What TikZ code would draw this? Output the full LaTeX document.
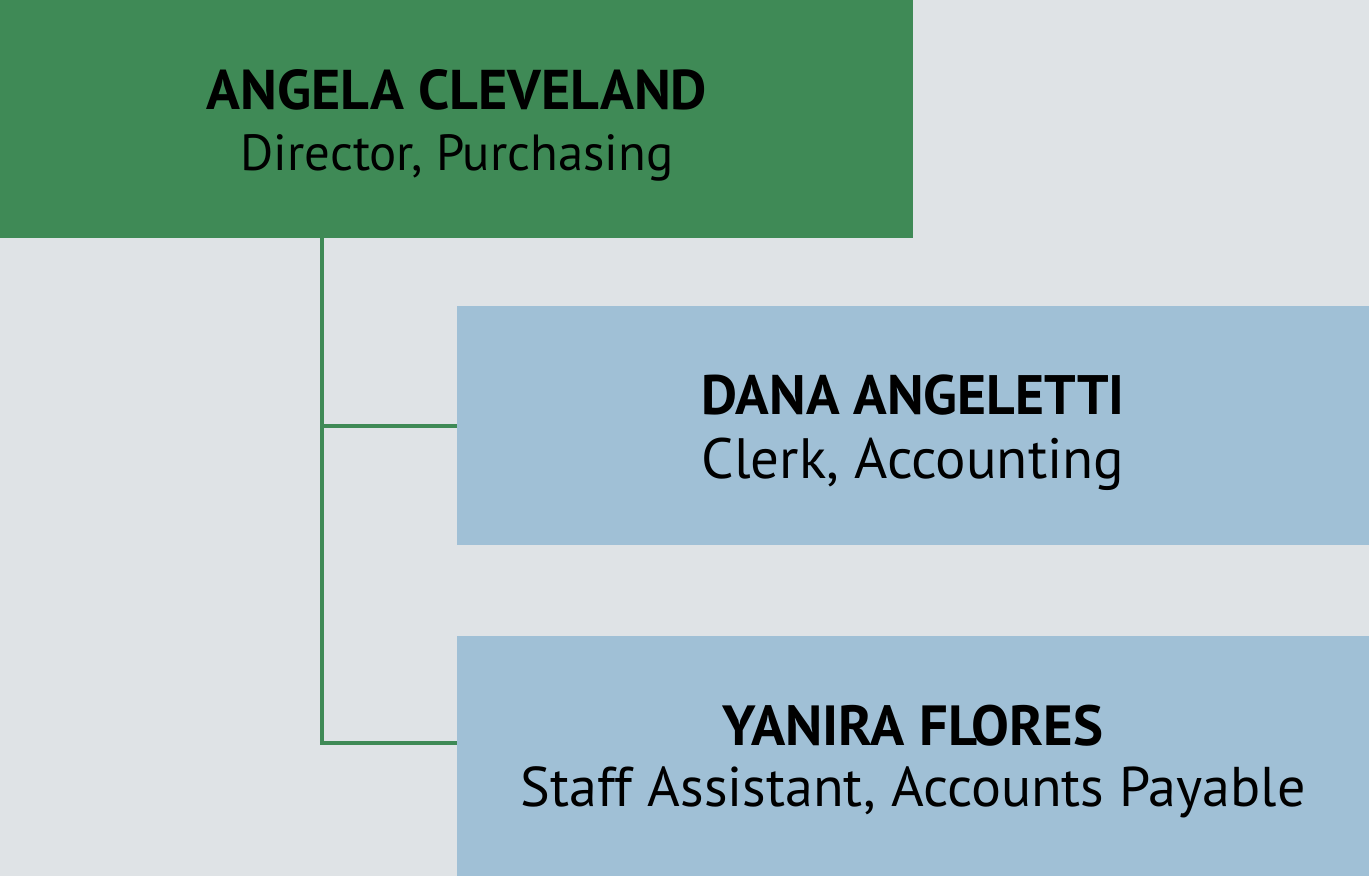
\documentclass[tikz,border=0pt]{standalone}
\usepackage{fontspec}
\setmainfont{PT Sans}
\definecolor{bg}{HTML}{DFE3E6}
\definecolor{grn}{HTML}{3F8A56}
\definecolor{blu}{HTML}{A0C0D6}
\begin{document}
\begin{tikzpicture}[x=1pt,y=-1pt,
  box/.style={draw=none,minimum width=#1,inner sep=0pt,anchor=north west},
  nm/.style={font=\fontsize{#1}{60}\selectfont\bfseries,anchor=base,inner sep=0pt},
  tt/.style={font=\fontsize{#1}{60}\selectfont,anchor=base,inner sep=0pt},
  conn/.style={draw=grn,line width=4pt}]
\fill[bg] (0,0) rectangle (1369,876);
\useasboundingbox (0,0) rectangle (1369,876);
\node[box=913pt,fill=grn,minimum height=238pt] (a) at (0,0) {};
\node[box=912pt,fill=blu,minimum height=239pt] (d) at (457,306) {};
\node[box=912pt,fill=blu,minimum height=240pt] (y) at (457,636) {};
\node[nm=56] (an) at (457,109) {ANGELA CLEVELAND};
\node[tt=50.8] (at) at (457,170) {Director, Purchasing};
\node[nm=55.6] (dn) at (913,414) {DANA ANGELETTI};
\node[tt=56.9] (dt) at (913,478) {Clerk, Accounting};
\node[nm=56.6] (yn) at (913,745) {YANIRA FLORES};
\node[tt=56] (yt) at (913,806) {Staff Assistant, Accounts Payable};
\coordinate (j) at (322,238);
\draw[conn] (j) |- (d.west);
\draw[conn] (j) |- ([yshift=13pt]y.west);
\end{tikzpicture}
\end{document}
